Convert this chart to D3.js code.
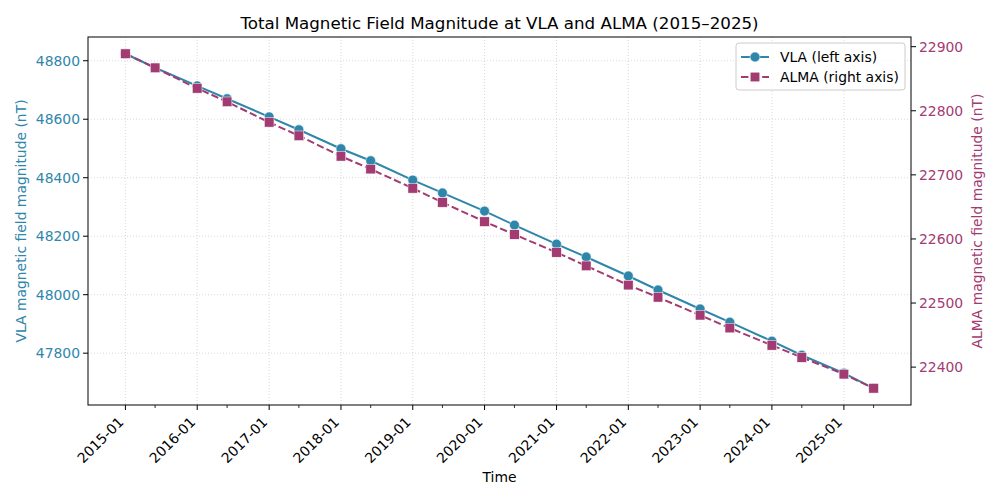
<!DOCTYPE html>
<html><head><meta charset="utf-8">
<script src="https://cdn.jsdelivr.net/npm/d3@7"></script>
<style>body{margin:0;background:#fff;} text{font-family:"DejaVu Sans",sans-serif;}</style>
</head><body><svg id="c" width="1000" height="500"></svg>
<script>
const dates = ["2015-01-01","2015-06-01","2016-01-01","2016-06-01","2017-01-01","2017-06-01","2018-01-01","2018-06-01","2019-01-01","2019-06-01","2020-01-01","2020-06-01","2021-01-01","2021-06-01","2022-01-01","2022-06-01","2023-01-01","2023-06-01","2024-01-01","2024-06-01","2025-01-01","2025-06-01"];
const vla = [48824,48776,48714,48670,48608,48564,48499,48458,48392,48348,48286,48238,48173,48129,48064,48016,47951,47906,47841,47793,47732,47680];
const alma = [22889,22867,22835,22814,22782,22761,22729,22709,22679,22657,22627,22607,22579,22558,22528,22509,22481,22461,22434,22415,22389,22367];
const leftTicks = [47800,48000,48200,48400,48600,48800];
const rightTicks = [22400,22500,22600,22700,22800,22900];
const seriesNames = ["VLA (left axis)","ALMA (right axis)"];
const title = "Total Magnetic Field Magnitude at VLA and ALMA (2015–2025)";

const C1 = "#2e86ab", C2 = "#a23b72";
const L=88,R=911,T=37,B=405;
const FS=13.9, LW=2;
const svg = d3.select("#c");
const parse = d3.utcParse("%Y-%m-%d");
const X = dates.map(parse);
const x0 = X[0], x1 = X[X.length-1];
const span = x1 - x0;
const x = d3.scaleUtc().domain([new Date(+x0 - span*0.05), new Date(+x1 + span*0.05)]).range([L,R]);
const ext = (a)=>{const mn=d3.min(a),mx=d3.max(a),r=mx-mn;return [mn-r*0.05,mx+r*0.05];};
const yL = d3.scaleLinear().domain(ext(vla)).range([B,T]);
const yR = d3.scaleLinear().domain(ext(alma)).range([B,T]);

// grid
const majorX = d3.utcYear.range(parse("2015-01-01"), parse("2025-06-02"));
const minorX = majorX.map(d=>d3.utcMonth.offset(d,5));
const g = svg.append("g");
g.selectAll(".gx").data(majorX).join("line").attr("x1",d=>x(d)).attr("x2",d=>x(d)).attr("y1",T).attr("y2",B)
 .attr("stroke","#cfcfcf").attr("stroke-width",0.8).attr("stroke-dasharray","1,2");
g.selectAll(".gy").data(leftTicks).join("line").attr("x1",L).attr("x2",R).attr("y1",d=>yL(d)).attr("y2",d=>yL(d))
 .attr("stroke","#cfcfcf").attr("stroke-width",0.8).attr("stroke-dasharray","1,2");

// lines
const pts1 = X.map((d,i)=>[x(d),yL(vla[i])]);
const pts2 = X.map((d,i)=>[x(d),yR(alma[i])]);
svg.append("path").attr("d",d3.line()(pts1)).attr("fill","none").attr("stroke",C1).attr("stroke-width",LW);
svg.selectAll(".m1").data(pts1).join("circle").attr("cx",d=>d[0]).attr("cy",d=>d[1]).attr("r",4.9)
 .attr("fill",C1).attr("stroke","#fff").attr("stroke-width",0.5);
svg.append("path").attr("d",d3.line()(pts2)).attr("fill","none").attr("stroke",C2).attr("stroke-width",LW).attr("stroke-dasharray","7.4,3.2");
const s=9.6;
svg.selectAll(".m2").data(pts2).join("rect").attr("x",d=>d[0]-s/2).attr("y",d=>d[1]-s/2).attr("width",s).attr("height",s)
 .attr("fill",C2).attr("stroke","#fff").attr("stroke-width",0.5);

// frame
svg.append("rect").attr("x",L).attr("y",T).attr("width",R-L).attr("height",B-T).attr("fill","none").attr("stroke","#000").attr("stroke-width",1);

// x ticks
const ax = svg.append("g");
ax.selectAll(".tx").data(majorX).join("line").attr("x1",d=>x(d)).attr("x2",d=>x(d)).attr("y1",B).attr("y2",B+5).attr("stroke","#000");
ax.selectAll(".tmx").data(minorX).join("line").attr("x1",d=>x(d)).attr("x2",d=>x(d)).attr("y1",B).attr("y2",B+3).attr("stroke","#000").attr("stroke-width",0.8);
ax.selectAll(".lx").data(majorX).join("text").attr("text-anchor","end")
 .attr("transform",d=>`translate(${x(d)-1},${B+18}) rotate(-45)`).attr("font-size",FS).attr("fill","#000")
 .text(d3.utcFormat("%Y-%m"));
svg.append("text").attr("x",(L+R)/2).attr("y",482).attr("text-anchor","middle").attr("font-size",FS).text("Time");

// left y
svg.selectAll(".tl").data(leftTicks).join("line").attr("x1",L-5).attr("x2",L).attr("y1",d=>yL(d)).attr("y2",d=>yL(d)).attr("stroke","#000");
svg.selectAll(".ll").data(leftTicks).join("text").attr("x",L-8).attr("y",d=>yL(d)).attr("dy","0.35em").attr("text-anchor","end")
 .attr("font-size",FS).attr("fill",C1).text(d=>d);
svg.append("text").attr("transform",`translate(26,${(T+B)/2}) rotate(-90)`).attr("text-anchor","middle").attr("font-size",FS).attr("fill",C1)
 .text("VLA magnetic field magnitude (nT)");

// right y
svg.selectAll(".tr").data(rightTicks).join("line").attr("x1",R).attr("x2",R+5).attr("y1",d=>yR(d)).attr("y2",d=>yR(d)).attr("stroke","#000");
svg.selectAll(".lr").data(rightTicks).join("text").attr("x",R+8).attr("y",d=>yR(d)).attr("dy","0.35em").attr("text-anchor","start")
 .attr("font-size",FS).attr("fill",C2).text(d=>d);
svg.append("text").attr("transform",`translate(982,${(T+B)/2}) rotate(-90)`).attr("text-anchor","middle").attr("font-size",FS).attr("fill",C2)
 .text("ALMA magnetic field magnitude (nT)");

// title
svg.append("text").attr("x",(L+R)/2).attr("y",29).attr("text-anchor","middle").attr("font-size",16.7).text(title);

// legend
const lg = svg.append("g");
lg.append("rect").attr("x",736).attr("y",43).attr("width",169).attr("height",47).attr("rx",3)
 .attr("fill","#fff").attr("fill-opacity",0.8).attr("stroke","#ccc");
[[C1,null,"c"],[C2,"7.4,3.2","s"]].forEach((p,i)=>{
  const yy = 57 + i*20;
  lg.append("line").attr("x1",741).attr("x2",769).attr("y1",yy).attr("y2",yy).attr("stroke",p[0]).attr("stroke-width",LW).attr("stroke-dasharray",p[1]);
  if(p[2]==="c") lg.append("circle").attr("cx",755).attr("cy",yy).attr("r",4.9).attr("fill",p[0]).attr("stroke","#fff").attr("stroke-width",0.5);
  else lg.append("rect").attr("x",755-s/2).attr("y",yy-s/2).attr("width",s).attr("height",s).attr("fill",p[0]).attr("stroke","#fff").attr("stroke-width",0.5);
  lg.append("text").attr("x",780).attr("y",yy).attr("dy","0.35em").attr("font-size",FS).text(seriesNames[i]);
});
</script></body></html>
